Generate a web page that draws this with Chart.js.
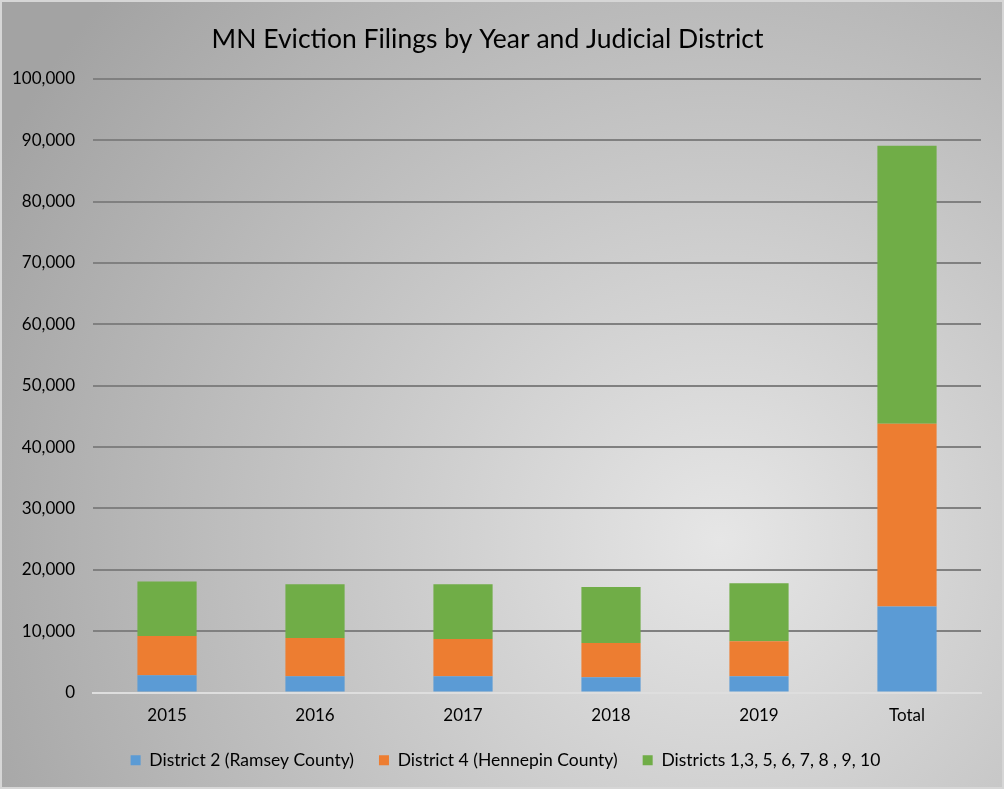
<!DOCTYPE html>
<html>
<head>
<meta charset="utf-8">
<script src="https://cdn.jsdelivr.net/npm/chart.js@4"></script>
<style>
  html, body { margin: 0; padding: 0; }
  #wrap { width: 1004px; height: 789px; position: relative; }
</style>
</head>
<body>
<div id="wrap"><canvas id="chart"></canvas></div>
<script>
// Valores
const categories = ['2015', '2016', '2017', '2018', '2019', 'Total'];
const district2 = [2800, 2650, 2650, 2500, 2650, 14000];
const district4 = [6400, 6250, 6050, 5550, 5700, 29800];
const otherDistricts = [8900, 8750, 8950, 9150, 9450, 45300];
const seriesNames = [
    'District 2 (Ramsey County)',
    'District 4 (Hennepin County)',
    'Districts 1,3, 5, 6, 7, 8 , 9, 10'
];

// Fondo con degradado gris como el original
const backgroundPlugin = {
    id: 'background',
    afterLayout(chart) {
        // la leyenda del original esta centrada en todo el lienzo
        if (chart.legend) {
            chart.legend.left += 18;
            chart.legend.right += 18;
        }
    },
    beforeDraw(chart) {
        const ctx = chart.ctx;
        const w = chart.width, h = chart.height;
        const g = ctx.createRadialGradient(720, 540, 0, 720, 540, 820);
        g.addColorStop(0, '#e6e6e6');
        g.addColorStop(1, '#a3a3a3');
        ctx.save();
        ctx.fillStyle = g;
        ctx.fillRect(0, 0, w, h);
        ctx.strokeStyle = '#d6d6d6';
        ctx.lineWidth = 2;
        ctx.strokeRect(1, 1, w - 2, h - 2);
        ctx.restore();
    }
};

const font = "Lato, 'Open Sans', sans-serif";

const ctx = document.getElementById('chart').getContext('2d');
new Chart(ctx, {
    type: 'bar',
    data: {
        labels: categories,
        datasets: [
            { label: seriesNames[0], data: district2, backgroundColor: '#5b9bd5' },
            { label: seriesNames[1], data: district4, backgroundColor: '#ed7d31' },
            { label: seriesNames[2], data: otherDistricts, backgroundColor: '#70ad47' }
        ]
    },
    options: {
        responsive: true,
        maintainAspectRatio: false,
        animation: false,
        barPercentage: 0.4,
        categoryPercentage: 1,
        layout: { padding: { left: -6, right: 23, top: 14, bottom: 10 } },
        plugins: {
            title: {
                display: true,
                text: 'MN Eviction Filings by Year and Judicial District',
                color: '#000',
                font: { family: font, size: 26.5, weight: 'normal' },
                padding: { top: 10, bottom: 23 }
            },
            legend: {
                position: 'bottom',
                labels: {
                    color: '#000',
                    font: { family: font, size: 17.5 },
                    boxWidth: 10,
                    boxHeight: 10,
                    padding: 25
                }
            },
            tooltip: { enabled: false }
        },
        scales: {
            x: {
                stacked: true,
                grid: { display: false },
                border: { display: true, color: '#dedede', width: 2 },
                ticks: {
                    color: '#000',
                    font: { family: font, size: 17, lineHeight: 1 },
                    padding: 7
                },
                afterFit: scale => { scale.height = 34; }
            },
            y: {
                stacked: true,
                min: 0,
                max: 100000,
                grid: {
                    color: '#808080',
                    lineWidth: 2,
                    drawTicks: false
                },
                border: { display: false },
                ticks: {
                    stepSize: 10000,
                    color: '#000',
                    padding: 18,
                    font: { family: font, size: 17 },
                    callback: v => v.toLocaleString('en-US')
                }
            }
        }
    },
    plugins: [backgroundPlugin]
});
</script>
</body>
</html>
